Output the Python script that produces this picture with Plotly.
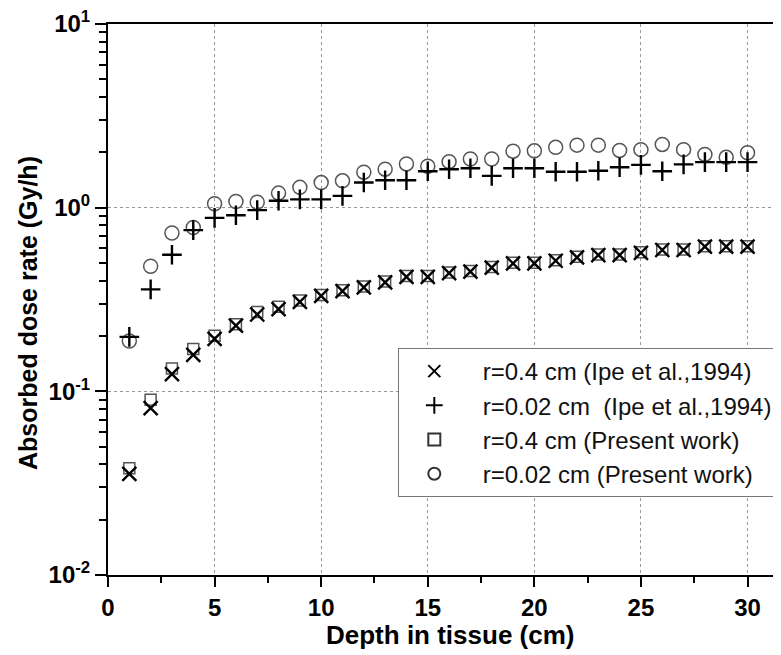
import plotly.graph_objects as go

depth = list(range(1, 31))

ipe_r04 = [0.0355, 0.081, 0.124, 0.158, 0.193, 0.228, 0.262, 0.280, 0.307, 0.331,
           0.351, 0.368, 0.392, 0.420, 0.420, 0.440, 0.448, 0.472, 0.497, 0.497,
           0.514, 0.536, 0.552, 0.552, 0.568, 0.588, 0.588, 0.613, 0.613, 0.613]
ipe_r002 = [0.198, 0.359, 0.554, 0.755, 0.88, 0.91, 0.97, 1.09, 1.11, 1.11,
            1.16, 1.37, 1.41, 1.41, 1.58, 1.62, 1.64, 1.49, 1.64, 1.64,
            1.57, 1.57, 1.59, 1.66, 1.71, 1.58, 1.72, 1.77, 1.77, 1.77]
pw_r04 = [0.0381, 0.090, 0.133, 0.170, 0.201, 0.232, 0.270, 0.289, 0.312, 0.335,
          0.355, 0.372, 0.396, 0.424, 0.424, 0.444, 0.452, 0.476, 0.501, 0.501,
          0.518, 0.540, 0.556, 0.556, 0.572, 0.592, 0.592, 0.617, 0.617, 0.617]
pw_r002 = [0.188, 0.48, 0.728, 0.78, 1.05, 1.08, 1.07, 1.20, 1.29, 1.37,
           1.40, 1.56, 1.62, 1.73, 1.68, 1.78, 1.84, 1.84, 2.03, 2.04,
           2.13, 2.19, 2.19, 2.05, 2.07, 2.21, 2.07, 1.95, 1.88, 1.99]

names = ["r=0.4 cm (Ipe et al.,1994)", "r=0.02 cm \u00a0(Ipe et al.,1994)",
         "r=0.4 cm (Present work)", "r=0.02 cm (Present work)"]
x_title = "Depth in tissue (cm)"
y_title = "Absorbed dose rate (Gy/h)"

ytickvals = [0.01, 0.1, 1, 10]
yticktext = ["10<sup>-2</sup>", "10<sup>-1</sup>", "10<sup>0</sup>", "10<sup>1</sup>"]
yminor = [m * d for d in (0.01, 0.1, 1) for m in range(2, 10)]
xtickvals = [0, 5, 10, 15, 20, 25, 30]
xminor = [2.5, 7.5, 12.5, 17.5, 22.5, 27.5]

FONT = "Liberation Sans, Arial, sans-serif"
PAD = "\u00a0\u00a0"  # extra gap between legend symbol and label

fig = go.Figure()
fig.add_trace(go.Scatter(x=depth, y=pw_r04, mode="markers", name=names[2],
                         marker=dict(symbol="square-open", size=11, color="#555555",
                                     line=dict(width=1.5, color="#555555")), showlegend=False))
fig.add_trace(go.Scatter(x=depth, y=pw_r002, mode="markers", name=names[3],
                         marker=dict(symbol="circle-open", size=14, color="#555555",
                                     line=dict(width=1.5, color="#555555")), showlegend=False))
fig.add_trace(go.Scatter(x=depth, y=ipe_r04, mode="markers", name=PAD + names[0],
                         marker=dict(symbol="x-thin", size=14, color="black",
                                     line=dict(width=2.4, color="black"))))
fig.add_trace(go.Scatter(x=depth, y=ipe_r002, mode="markers", name=PAD + names[1],
                         marker=dict(symbol="cross-thin", size=14, color="black",
                                     line=dict(width=2.4, color="black"))))
fig.add_trace(go.Scatter(x=[None], y=[None], mode="markers", name=PAD + names[2],
                         marker=dict(symbol="square-open", size=9, color="#333333",
                                     line=dict(width=1.2, color="#333333"))))
fig.add_trace(go.Scatter(x=[None], y=[None], mode="markers", name=PAD + names[3],
                         marker=dict(symbol="circle-open", size=9, color="#333333",
                                     line=dict(width=1.2, color="#333333"))))

fig.update_layout(
    width=781, height=655,
    margin=dict(l=100, r=8, t=16, b=88),
    paper_bgcolor="white", plot_bgcolor="white",
    font=dict(family=FONT, color="black"),
    showlegend=True,
    legend=dict(
        x=0.996, y=0.412, xanchor="right", yanchor="top",
        bgcolor="white", bordercolor="#777777", borderwidth=1,
        font=dict(family=FONT, size=24, color="#111111"),
        itemsizing="constant", itemwidth=60,
        tracegroupgap=0,
    ),
    xaxis=dict(
        range=[0, 31.57], showline=True, linecolor="black", linewidth=2, mirror=True,
        automargin=False,
        ticks="outside", ticklen=10, tickwidth=2, tickcolor="black",
        tickvals=xtickvals,
        minor=dict(ticks="outside", ticklen=6, tickwidth=2, tickcolor="black",
                   tickvals=xminor, showgrid=False),
        showgrid=True, gridcolor="#999999", griddash="dot", gridwidth=1,
        zeroline=False,
        tickfont=dict(family=FONT, size=24, color="black", weight="bold"),
    ),
    yaxis=dict(
        type="log", range=[-2, 1], showline=True, linecolor="black", linewidth=2,
        mirror=False, automargin=False, ticklabeloverflow="allow",
        ticks="outside", ticklen=11, tickwidth=2, tickcolor="black",
        tickvals=ytickvals, ticktext=yticktext,
        minor=dict(ticks="outside", ticklen=7, tickwidth=2, tickcolor="black",
                   tickvals=yminor, showgrid=False),
        showgrid=True, gridcolor="#999999", griddash="dot", gridwidth=1,
        zeroline=False,
        tickfont=dict(family=FONT, size=24, color="black", weight="bold"),
    ),
    annotations=[
        dict(text="<b>" + x_title + "</b>", xref="paper", yref="paper",
             x=0.508, y=-0.1090, xanchor="center", yanchor="middle", showarrow=False,
             font=dict(family=FONT, size=26, color="black")),
        dict(text="<b>" + y_title + "</b>", xref="paper", yref="paper",
             x=-0.1189, y=0.4755, xanchor="center", yanchor="middle", showarrow=False,
             textangle=-90, font=dict(family=FONT, size=25, color="black")),
    ],
)

fig.write_html("out.html")
